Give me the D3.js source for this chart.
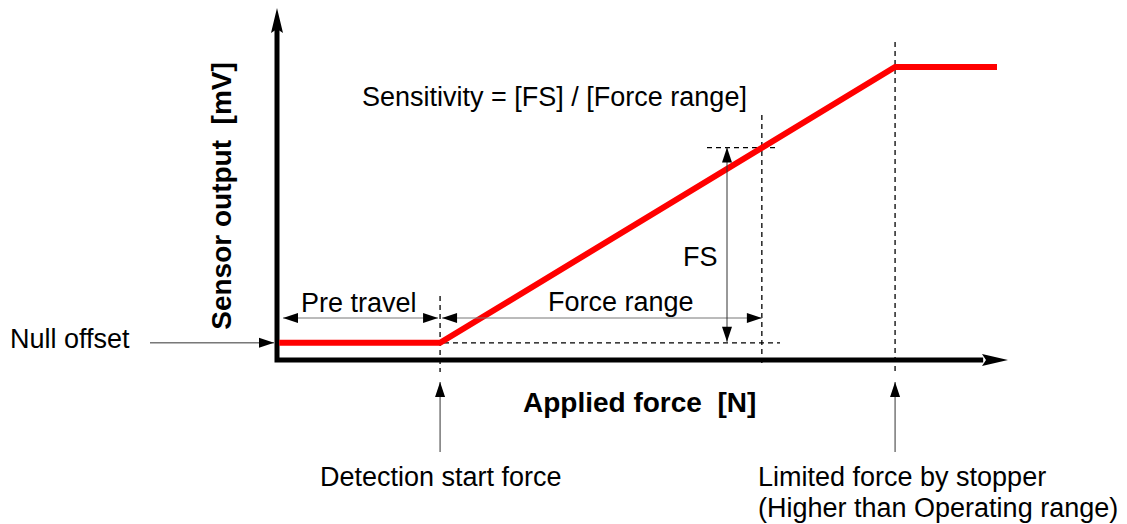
<!DOCTYPE html>
<html>
<head>
<meta charset="utf-8">
<script src="https://cdn.jsdelivr.net/npm/d3@7"></script>
<style>
  body { margin: 0; background: #fff; }
  svg { display: block; }
  text { font-family: "Liberation Sans", Arial, sans-serif; fill: #000; white-space: pre; }
</style>
</head>
<body>
<svg id="chart" width="1127" height="524"></svg>
<script>
// output curve (arbitrary units, 0..100 on both axes)
var lineForce  = [0.3, 22.4, 84.9, 98.9];
var lineOutput = [4.9, 4.9, 83.7, 83.7];

// key points
var detectionStart = 22.4;
var rangeEnd = 66.6;
var stopperForce = 84.9;
var nullOffset = 4.9;
var fsTop = 60.7;

var svg = d3.select("#chart");

var x = d3.scaleLinear().domain([0, 100]).range([277, 1005]);
var y = d3.scaleLinear().domain([0, 100]).range([360, 10]);

var xDet = x(detectionStart), xEnd = x(rangeEnd), xStop = x(stopperForce);
var yNull = y(nullOffset), yFs = y(fsTop);

// filled arrow head, tip at (tx,ty), pointing along angle
function head(tx, ty, ang, len, half, notch) {
  var c = Math.cos(ang), s = Math.sin(ang);
  var pts = [[0, 0], [-len, -half], [-len + (notch || 0), 0], [-len, half]];
  var p = pts.map(function(q){ return [tx + q[0]*c - q[1]*s, ty + q[0]*s + q[1]*c]; });
  svg.append("path").attr("d", "M" + p.join("L") + "Z").attr("fill", "#000");
}

function arrow(x1, y1, x2, y2, both, color) {
  svg.append("line")
    .attr("x1", x1).attr("y1", y1).attr("x2", x2).attr("y2", y2)
    .attr("stroke", color || "#333").attr("stroke-width", 1);
  var a = Math.atan2(y2 - y1, x2 - x1);
  head(x2, y2, a, 15, 5);
  if (both) head(x1, y1, a + Math.PI, 15, 5);
}

function dashed(x1, y1, x2, y2) {
  svg.append("line")
    .attr("x1", x1).attr("y1", y1).attr("x2", x2).attr("y2", y2)
    .attr("stroke", "#000").attr("stroke-width", 1.3)
    .attr("stroke-dasharray", "5,4");
}

// dashed guides
dashed(xDet, 296, xDet, 372);
dashed(390, yNull, 780, yNull);
dashed(xEnd, 115, xEnd, 366);
dashed(707, yFs, 777, yFs);
dashed(xStop, 42, xStop, 373);

// axes
svg.append("path")
  .attr("d", "M" + x(0) + "," + y(97) + "L" + x(0) + "," + y(0) + "L" + x(97) + "," + y(0))
  .attr("fill", "none").attr("stroke", "#000").attr("stroke-width", 5);
head(x(0), 8, -Math.PI / 2, 25, 6, 4);
head(1008, y(0), 0, 26, 6, 4);

// red output line
var line = d3.line().x(function(d){ return x(d[0]); }).y(function(d){ return y(d[1]); });
svg.append("path")
  .datum(d3.zip(lineForce, lineOutput))
  .attr("d", line)
  .attr("fill", "none").attr("stroke", "#ff0000").attr("stroke-width", 6)
  .attr("stroke-linejoin", "miter");

// dimension arrows
arrow(150, yNull, 274, yNull, false, "#333");
arrow(283, 318, xDet - 2, 318, true, "#777");
arrow(xDet + 2, 318, xEnd, 318, true, "#777");
arrow(727, yFs, 727, yNull - 1, true, "#333");
arrow(xDet, 452, xDet, 382, false, "#333");
arrow(xStop, 452, xStop, 382, false, "#333");

// labels
function label(t, tx, ty, size, bold) {
  return svg.append("text").attr("x", tx).attr("y", ty)
    .style("font-size", size + "px").style("font-weight", bold ? "bold" : "normal").text(t);
}
label("Null offset", 10, 348, 27);
label("Pre travel", 301, 312, 27);
label("Force range", 548, 311, 27);
label("FS", 683, 266, 27);
label("Sensitivity = [FS] / [Force range]", 362, 106, 27);
label("Applied force  [N]", 523, 412, 28, true);
label("Detection start force", 320, 486, 27);
label("Limited force by stopper", 758, 486, 27);
label("(Higher than Operating range)", 758, 517, 27);

svg.append("text")
  .attr("transform", "translate(231,196) rotate(-90)")
  .attr("text-anchor", "middle")
  .style("font-size", "28px").style("font-weight", "bold")
  .text("Sensor output  [mV]");
</script>
</body>
</html>
